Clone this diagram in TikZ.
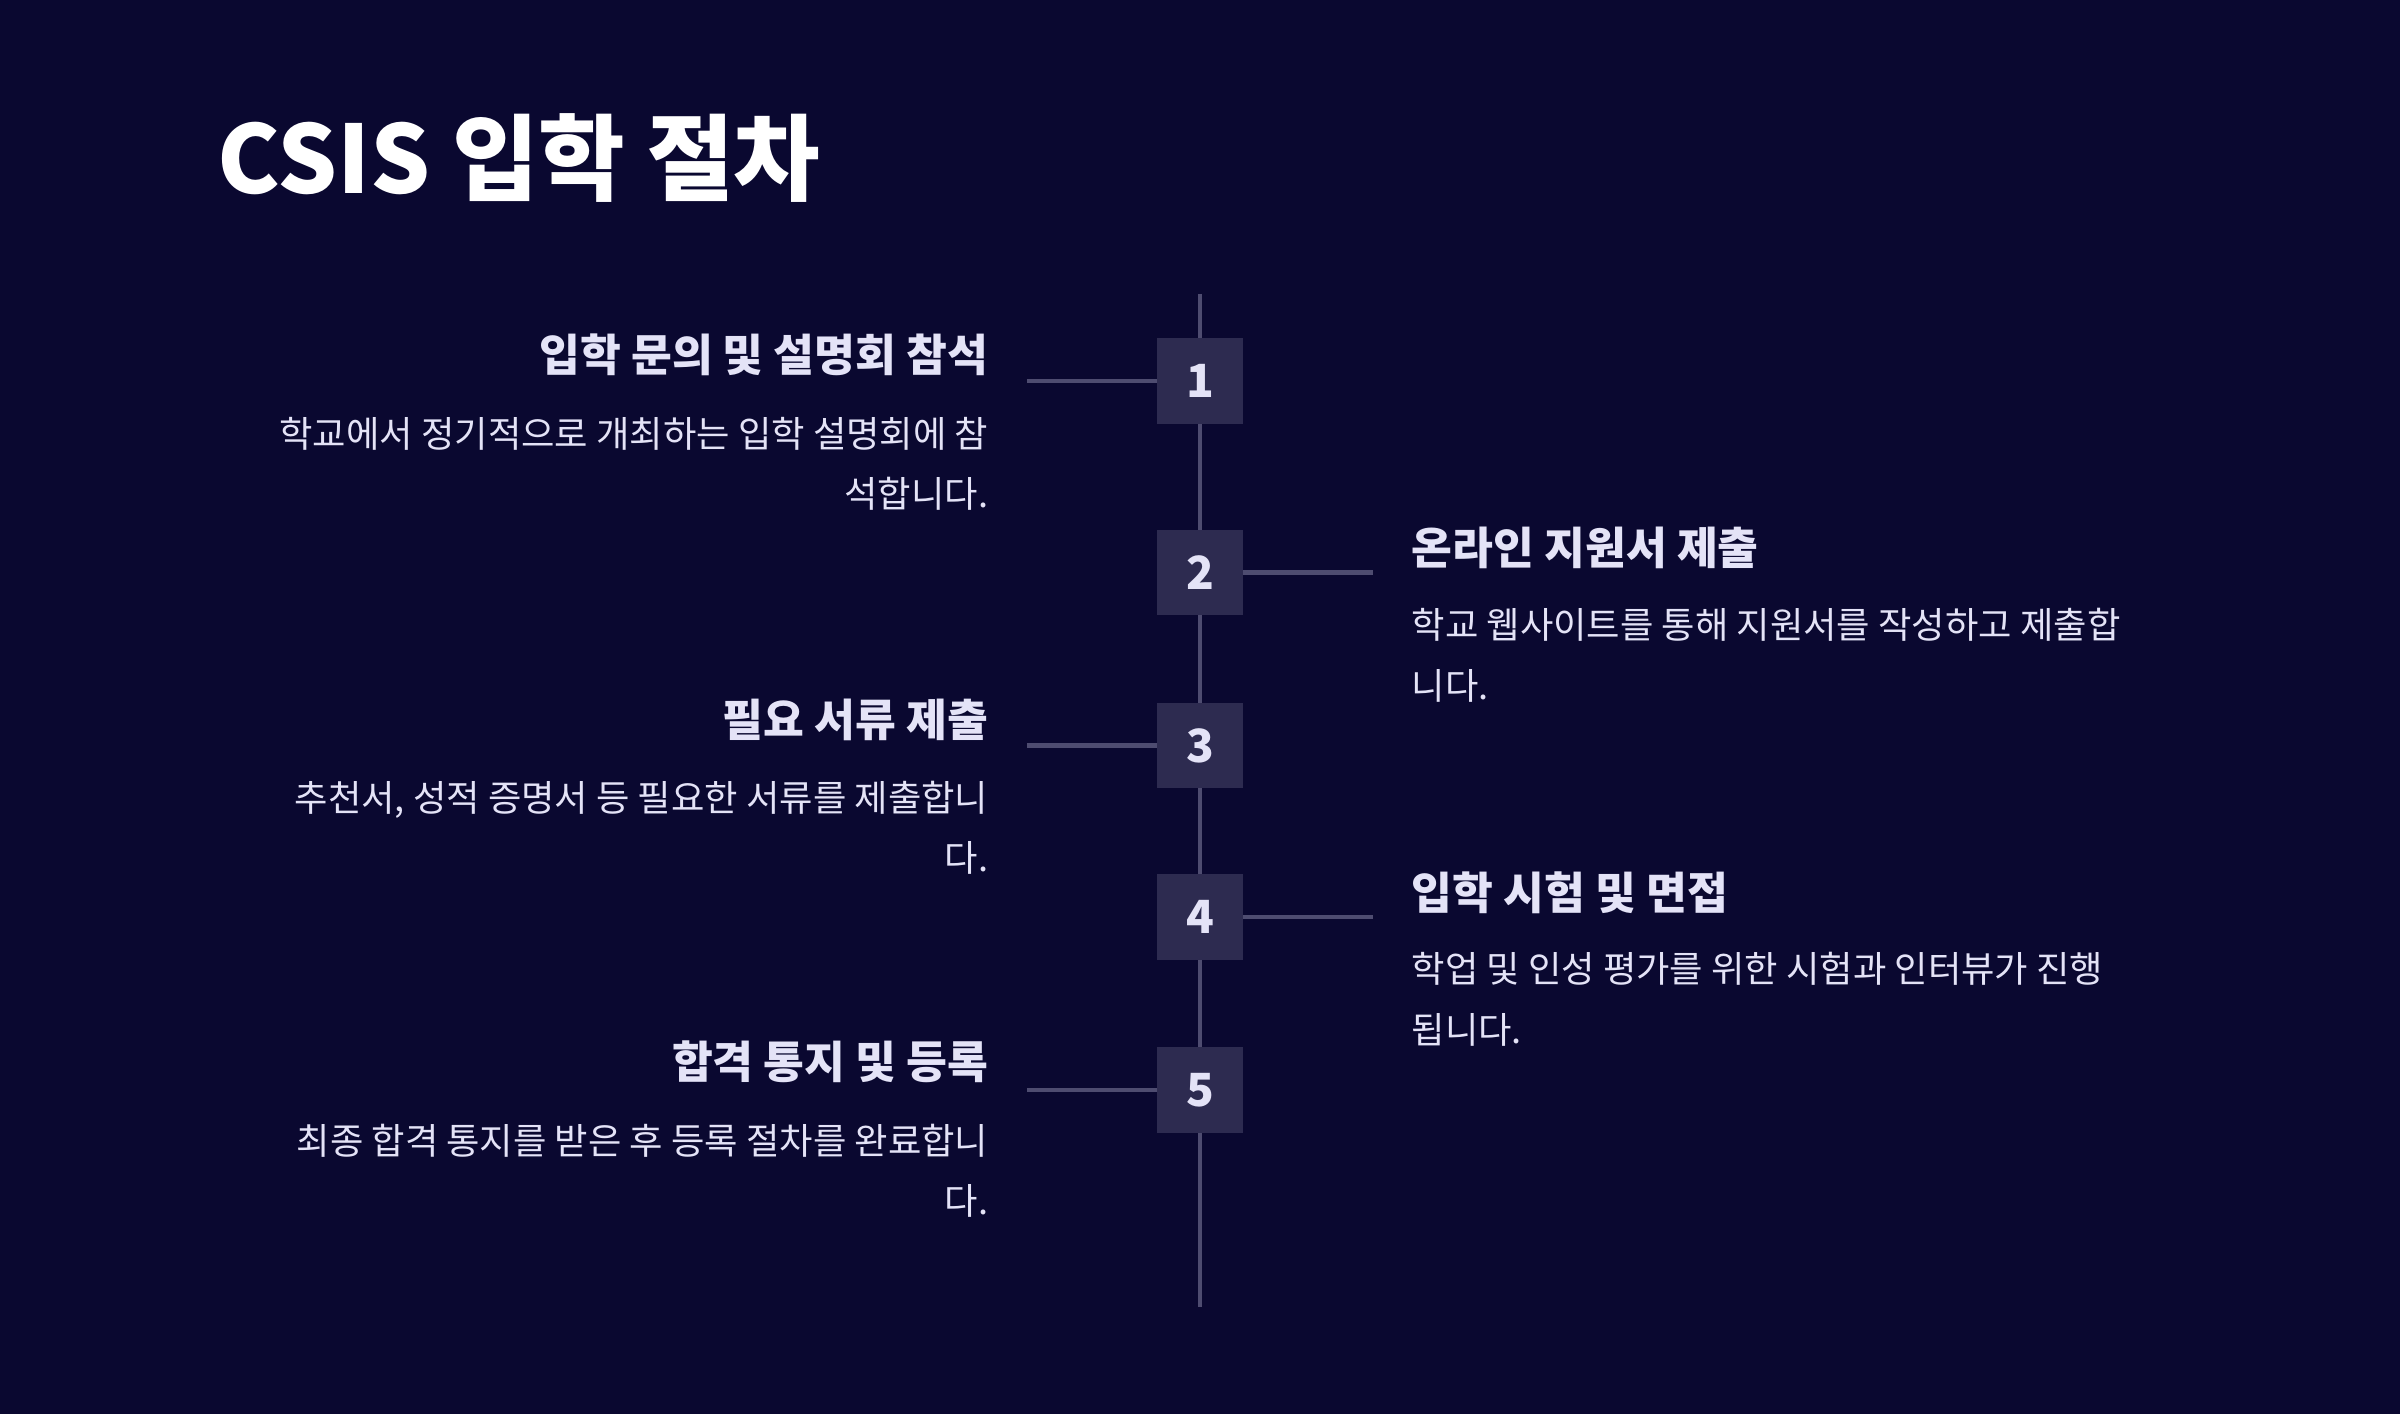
\documentclass[tikz,border=0pt]{standalone}
\usepackage{fontspec}
\setmainfont{Noto Sans CJK KR}
\newfontfamily\titlefont{Noto Sans CJK KR Bold}
\usetikzlibrary{positioning}
\definecolor{bgdark}{HTML}{0A0830}
\definecolor{stepfill}{HTML}{2D2B50}
\definecolor{lineclr}{HTML}{4E4C70}
\definecolor{txtclr}{HTML}{E4E3F7}

\tikzset{
	stepbox/.style={fill=stepfill, minimum size=1.12cm, inner sep=0pt, text=txtclr, font=\fontsize{17}{17}\selectfont\bfseries},
	headtxt/.style={text=txtclr, inner sep=0pt, font=\fontsize{16.5}{20}\selectfont\bfseries},
	bodytxt/.style={text=txtclr, inner sep=0pt, font=\fontsize{13.5}{22.5}\selectfont},
	link/.style={lineclr, line width=1.6pt}
}

\begin{document}
\begin{tikzpicture}[x=0.02cm, y=-0.02cm]
	\fill[bgdark] (0,0) rectangle (1568,924);
	\useasboundingbox (0,0) rectangle (1568,924);
	\node[anchor=west, text=white, inner sep=0pt, font=\fontsize{35}{35}\selectfont\bfseries] (title) at (142,103) {CSIS 입학 절차};

	% timeline
	\coordinate (top) at (784,192);
	\coordinate (bot) at (784,854);
	\draw[link] (top) -- (bot);

	% steps
	\node[stepbox] (s1) at (784,249) {1};
	\node[stepbox] (s2) at (784,374) {2};
	\node[stepbox] (s3) at (784,487) {3};
	\node[stepbox] (s4) at (784,599) {4};
	\node[stepbox] (s5) at (784,712) {5};

	\coordinate (e1) at (671,249);
	\coordinate (e2) at (897,374);
	\coordinate (e3) at (671,487);
	\coordinate (e4) at (897,599);
	\coordinate (e5) at (671,712);
	\foreach \i in {1,...,5}
		\draw[link] (s\i) -- (e\i);

	% left texts
	\node[headtxt, anchor=east] (h1) at (646,232) {입학 문의 및 설명회 참석};
	\node[bodytxt, anchor=north east, align=right] (b1) at (646,272) {학교에서 정기적으로 개최하는 입학 설명회에 참\\석합니다.};
	\node[headtxt, anchor=east] (h3) at (646,470) {필요 서류 제출};
	\node[bodytxt, anchor=north east, align=right] (b3) at (646,510) {추천서, 성적 증명서 등 필요한 서류를 제출합니\\다.};
	\node[headtxt, anchor=east] (h5) at (646,694) {합격 통지 및 등록};
	\node[bodytxt, anchor=north east, align=right] (b5) at (646,734) {최종 합격 통지를 받은 후 등록 절차를 완료합니\\다.};

	% right texts
	\node[headtxt, anchor=west] (h2) at (922,358) {온라인 지원서 제출};
	\node[bodytxt, anchor=north west, align=left] (b2) at (922,397) {학교 웹사이트를 통해 지원서를 작성하고 제출합\\니다.};
	\node[headtxt, anchor=west] (h4) at (922,583) {입학 시험 및 면접};
	\node[bodytxt, anchor=north west, align=left] (b4) at (922,622) {학업 및 인성 평가를 위한 시험과 인터뷰가 진행\\됩니다.};
\end{tikzpicture}
\end{document}
